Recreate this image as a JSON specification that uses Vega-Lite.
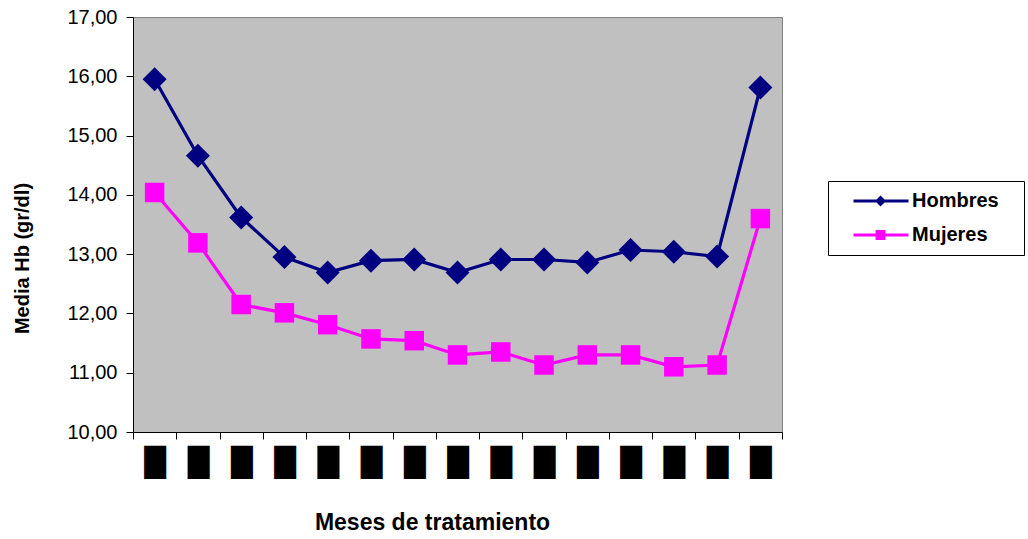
{
  "$schema": "https://vega.github.io/schema/vega-lite/v6.json",
  "width": 649,
  "height": 415,
  "autosize": "none",
  "padding": {"left": 133, "top": 17, "right": 246, "bottom": 107},
  "background": "white",
  "config": {
    "view": {"fill": "#C0C0C0", "stroke": "#808080", "strokeWidth": 1},
    "font": "Liberation Sans",
    "axis": {"domainColor": "#000000", "tickColor": "#000000", "labelColor": "#000000", "titleColor": "#000000", "grid": false, "tickWidth": 1, "domainWidth": 1}
  },
  "data": {
    "values": [
      {"mes": 1, "serie": "Hombres", "hb": 15.95},
      {"mes": 2, "serie": "Hombres", "hb": 14.66},
      {"mes": 3, "serie": "Hombres", "hb": 13.62},
      {"mes": 4, "serie": "Hombres", "hb": 12.95},
      {"mes": 5, "serie": "Hombres", "hb": 12.69},
      {"mes": 6, "serie": "Hombres", "hb": 12.89},
      {"mes": 7, "serie": "Hombres", "hb": 12.91},
      {"mes": 8, "serie": "Hombres", "hb": 12.69},
      {"mes": 9, "serie": "Hombres", "hb": 12.91},
      {"mes": 10, "serie": "Hombres", "hb": 12.91},
      {"mes": 11, "serie": "Hombres", "hb": 12.86},
      {"mes": 12, "serie": "Hombres", "hb": 13.07},
      {"mes": 13, "serie": "Hombres", "hb": 13.04},
      {"mes": 14, "serie": "Hombres", "hb": 12.96},
      {"mes": 15, "serie": "Hombres", "hb": 15.81},
      {"mes": 1, "serie": "Mujeres", "hb": 14.04},
      {"mes": 2, "serie": "Mujeres", "hb": 13.19},
      {"mes": 3, "serie": "Mujeres", "hb": 12.15},
      {"mes": 4, "serie": "Mujeres", "hb": 12.01},
      {"mes": 5, "serie": "Mujeres", "hb": 11.81},
      {"mes": 6, "serie": "Mujeres", "hb": 11.57},
      {"mes": 7, "serie": "Mujeres", "hb": 11.54},
      {"mes": 8, "serie": "Mujeres", "hb": 11.30},
      {"mes": 9, "serie": "Mujeres", "hb": 11.35},
      {"mes": 10, "serie": "Mujeres", "hb": 11.13},
      {"mes": 11, "serie": "Mujeres", "hb": 11.30},
      {"mes": 12, "serie": "Mujeres", "hb": 11.30},
      {"mes": 13, "serie": "Mujeres", "hb": 11.10},
      {"mes": 14, "serie": "Mujeres", "hb": 11.13},
      {"mes": 15, "serie": "Mujeres", "hb": 13.60}
    ]
  },
  "encoding": {
    "x": {
      "field": "mes",
      "type": "ordinal",
      "scale": {"paddingInner": 0, "paddingOuter": 0},
      "axis": {
        "title": "Meses de tratamiento",
        "labelExpr": "isValid(datum.value) ? '█' : ''",
        "labelFont": "DejaVu Sans",
        "labelFontSize": 28,
        "labelAngle": 0,
        "labelPadding": 10,
        "tickSize": 7,
        "tickBand": "extent",
        "titleFontSize": 23,
        "titleFontWeight": "bold",
        "titleX": 299,
        "titleY": 90,
        "titleAlign": "center",
        "titleBaseline": "middle"
      }
    },
    "y": {
      "field": "hb",
      "type": "quantitative",
      "scale": {"domain": [10, 17], "nice": false, "zero": false},
      "axis": {
        "title": "Media Hb (gr/dl)",
        "values": [10, 11, 12, 13, 14, 15, 16, 17],
        "labelExpr": "replace(format(datum.value, '.2f'), '.', ',')",
        "labelFontSize": 20,
        "labelPadding": 9,
        "tickSize": 7,
        "titleFontSize": 20,
        "titleFontWeight": "bold",
        "titleX": -111,
        "titleY": 241,
        "titleAlign": "center",
        "titleBaseline": "middle"
      }
    }
  },
  "layer": [
    {
      "transform": [{"filter": "datum.serie == 'Hombres'"}],
      "mark": {"type": "line", "strokeWidth": 3.2, "color": "#000080"}
    },
    {
      "transform": [{"filter": "datum.serie == 'Hombres'"}],
      "mark": {"type": "point", "shape": "diamond", "size": 576, "filled": true, "opacity": 1, "strokeWidth": 0, "color": "#000080"}
    },
    {
      "transform": [{"filter": "datum.serie == 'Mujeres'"}],
      "mark": {"type": "line", "strokeWidth": 3.2, "color": "#FF00FF"}
    },
    {
      "transform": [{"filter": "datum.serie == 'Mujeres'"}],
      "mark": {"type": "point", "shape": "square", "size": 380, "filled": true, "opacity": 1, "strokeWidth": 0, "color": "#FF00FF"}
    },
    {
      "mark": {"type": "point", "filled": true, "opacity": 0, "strokeWidth": 0},
      "encoding": {
        "color": {
          "field": "serie",
          "type": "nominal",
          "scale": {"domain": ["Hombres", "Mujeres"], "range": ["#000080", "#FF00FF"]},
          "legend": {
            "title": null,
            "orient": "none",
            "legendX": 695,
            "legendY": 164,
            "fillColor": "white",
            "strokeColor": "#000000",
            "padding": 10,
            "labelFont": "Liberation Sans",
            "labelFontSize": 20,
            "labelFontWeight": "bold",
            "labelColor": "#000000",
            "labelExpr": "datum.label + '\u2800'",
            "symbolSize": 121,
            "symbolOpacity": 1,
            "symbolStrokeWidth": 0,
            "labelOffset": 54,
            "rowPadding": 14
          }
        },
        "shape": {
          "field": "serie",
          "type": "nominal",
          "scale": {
            "domain": ["Hombres", "Mujeres"],
            "range": [
              "M1,-0.29H11V0.29H1Z M5.91,-1L6.91,0L5.91,1L4.91,0Z",
              "M1,-0.29H11V0.29H1Z M5.01,-0.9H6.81V0.9H5.01Z"
            ]
          },
          "legend": {
            "title": null,
            "orient": "none",
            "legendX": 695,
            "legendY": 164,
            "fillColor": "white",
            "strokeColor": "#000000",
            "padding": 10,
            "labelFont": "Liberation Sans",
            "labelFontSize": 20,
            "labelFontWeight": "bold",
            "labelColor": "#000000",
            "labelExpr": "datum.label + '\u2800'",
            "symbolSize": 121,
            "symbolOpacity": 1,
            "symbolStrokeWidth": 0,
            "labelOffset": 54,
            "rowPadding": 14
          }
        }
      }
    }
  ]
}
